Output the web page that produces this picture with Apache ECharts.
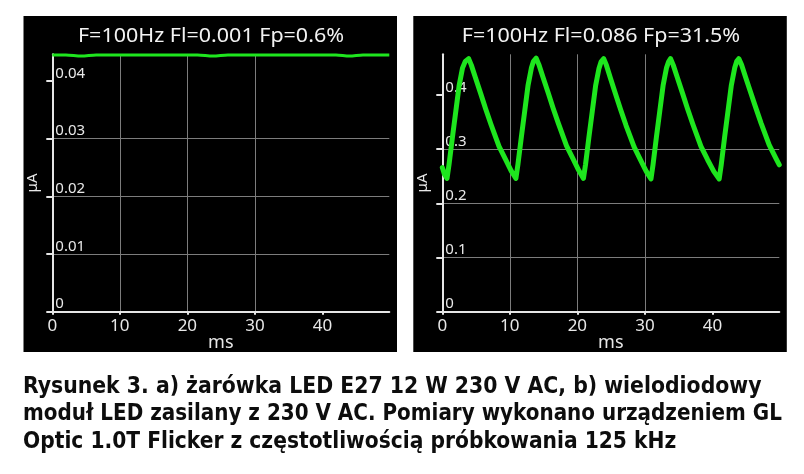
<!DOCTYPE html>
<html>
<head>
<meta charset="utf-8">
<script src="https://cdn.jsdelivr.net/npm/echarts@6/dist/echarts.min.js"></script>
<style>
  html, body { margin: 0; padding: 0; background: #ffffff; }
  #chart { width: 804px; height: 474px; }
</style>
</head>
<body>
<div id="chart"></div>
<script>
// ---- Data ----
var titleA = 'F=100Hz Fl=0.001 Fp=0.6%';
var titleB = 'F=100Hz Fl=0.086 Fp=31.5%';
var xTicks = [0, 10, 20, 30, 40];
var yTicksA = [0, 0.01, 0.02, 0.03, 0.04];
var yTicksB = [0, 0.1, 0.2, 0.3, 0.4];
var xName = 'ms';
var yName = 'μA';

// panel a) — nearly flat light output
var timeA = [0, 2, 4.3, 6.5, 10, 14, 18, 21.5, 23.8, 26, 30, 33, 36, 40, 42, 44, 46, 49.9];
var valueA = [0.0445, 0.0445, 0.0443, 0.0445, 0.0445, 0.0445, 0.0445, 0.0445, 0.0443, 0.0445, 0.0445, 0.0445, 0.0445, 0.0445, 0.0445, 0.0443, 0.0445, 0.0445];

// panel b) — 100 Hz sawtooth-like ripple
var timeB = [
  0, 0.3, 0.7, 1.0, 1.5, 2.0, 2.5, 3.0, 3.4, 3.9,
  4.3, 4.9, 5.7, 6.4, 7.2, 8.4, 9.4, 10.2, 10.9,
  11.2, 11.7, 12.2, 12.7, 13.2, 13.5, 13.9,
  14.3, 14.9, 15.7, 16.4, 17.2, 18.4, 19.4, 20.2, 20.9,
  21.2, 21.7, 22.2, 22.7, 23.2, 23.5, 23.9,
  24.3, 24.9, 25.7, 26.4, 27.2, 28.4, 29.4, 30.2, 30.9,
  31.2, 31.7, 32.2, 32.7, 33.2, 33.5, 33.8,
  34.2, 34.8, 35.6, 36.3, 37.1, 38.3, 39.3, 40.2, 41.0,
  41.3, 41.8, 42.3, 42.8, 43.3, 43.6, 43.9,
  44.3, 44.9, 45.7, 46.4, 47.2, 48.4, 49.4, 49.9
];
var valueB = [
  0.266, 0.254, 0.246, 0.272, 0.322, 0.370, 0.418, 0.450, 0.462, 0.467,
  0.455, 0.432, 0.402, 0.375, 0.346, 0.305, 0.280, 0.260, 0.246,
  0.272, 0.322, 0.370, 0.418, 0.450, 0.462, 0.468,
  0.456, 0.433, 0.403, 0.376, 0.347, 0.306, 0.281, 0.261, 0.246,
  0.271, 0.321, 0.369, 0.417, 0.449, 0.461, 0.467,
  0.455, 0.431, 0.400, 0.373, 0.344, 0.304, 0.279, 0.259, 0.245,
  0.271, 0.322, 0.370, 0.418, 0.450, 0.461, 0.467,
  0.455, 0.432, 0.402, 0.375, 0.346, 0.305, 0.280, 0.259, 0.245,
  0.271, 0.322, 0.370, 0.418, 0.450, 0.462, 0.467,
  0.456, 0.433, 0.403, 0.377, 0.348, 0.308, 0.283, 0.271
];

var captionLines = [
  'Rysunek 3. a) żarówka LED E27 12 W 230 V AC, b) wielodiodowy',
  'moduł LED zasilany z 230 V AC. Pomiary wykonano urządzeniem GL',
  'Optic 1.0T Flicker z częstotliwością próbkowania 125 kHz'
];

function pairs(xs, ys) {
  return xs.map(function (x, i) { return [x, ys[i]]; });
}

// ---- Styles / layout ----
var axisCol = '#e6e6e6';
var gridCol = '#7c7c7c';
var lblCol = '#e8e8e8';
var green = '#1ee61e';
var fontFam = "'Noto Sans', 'Open Sans', sans-serif";
var capLayout = [
  { y: 387, sx: 0.987 },
  { y: 414.5, sx: 0.964 },
  { y: 442, sx: 0.979 }
];

function makeX(idx) {
  return {
    type: 'value', gridIndex: idx, min: 0, max: 49.9,
    name: xName, nameLocation: 'middle', nameGap: 22, nameMoveOverlap: false,
    nameTextStyle: { color: lblCol, fontSize: 18, fontFamily: fontFam },
    axisLine: { show: true, lineStyle: { color: axisCol, width: 2 } },
    axisTick: { show: true, length: 3, customValues: xTicks, lineStyle: { color: axisCol, width: 2 } },
    axisLabel: { customValues: xTicks, color: lblCol, fontSize: 17, fontFamily: fontFam, margin: 6 },
    splitLine: { show: true, showMinLine: false, showMaxLine: false, lineStyle: { color: gridCol, width: 1 } }
  };
}
function makeY(idx, ticks, max) {
  return {
    type: 'value', gridIndex: idx, min: 0, max: max,
    name: yName, nameLocation: 'middle', nameGap: 12, nameRotate: 90, nameMoveOverlap: false,
    nameTextStyle: { color: lblCol, fontSize: 15, fontFamily: fontFam },
    axisLine: { show: true, lineStyle: { color: axisCol, width: 2 } },
    axisTick: { show: true, length: 6, customValues: ticks, lineStyle: { color: axisCol, width: 2 } },
    axisLabel: {
      customValues: ticks, inside: true, margin: 3, color: lblCol, fontSize: 15,
      fontFamily: fontFam, verticalAlign: 'bottom', align: 'left'
    },
    splitLine: { show: true, showMinLine: false, showMaxLine: false, lineStyle: { color: gridCol, width: 1 } }
  };
}

var chart = echarts.init(document.getElementById('chart'), null, { renderer: 'canvas' });

var graphics = [
  { type: 'rect', z: -100, shape: { x: 23.5, y: 16, width: 373.5, height: 336 }, style: { fill: '#000' } },
  { type: 'rect', z: -100, shape: { x: 413.3, y: 16, width: 373.5, height: 336 }, style: { fill: '#000' } },
  { type: 'text', z: 100, x: 211, y: 37, scaleX: 1.13, style: { text: titleA, fill: '#f2f2f2', font: '19px ' + fontFam, textAlign: 'center', textVerticalAlign: 'middle' } },
  { type: 'text', z: 100, x: 601, y: 37, scaleX: 1.13, style: { text: titleB, fill: '#f2f2f2', font: '19px ' + fontFam, textAlign: 'center', textVerticalAlign: 'middle' } }
];
captionLines.forEach(function (t, i) {
  graphics.push({
    type: 'text', z: 100, x: 23, y: capLayout[i].y, scaleX: capLayout[i].sx,
    style: { text: t, fill: '#0d0d0d', font: "bold 23px 'DejaVu Sans Condensed', sans-serif", textAlign: 'left', textVerticalAlign: 'middle' }
  });
});

chart.setOption({
  backgroundColor: '#ffffff',
  animation: false,
  grid: [
    { left: 52.3, top: 54.3, width: 337, height: 257.4 },
    { left: 442.3, top: 54.3, width: 337, height: 257.4 }
  ],
  xAxis: [makeX(0), makeX(1)],
  yAxis: [makeY(0, yTicksA, 0.0446), makeY(1, yTicksB, 0.475)],
  series: [
    {
      type: 'line', xAxisIndex: 0, yAxisIndex: 0, data: pairs(timeA, valueA),
      showSymbol: false, smooth: 0.3, clip: false,
      lineStyle: { color: green, width: 3 }, z: 5
    },
    {
      type: 'line', xAxisIndex: 1, yAxisIndex: 1, data: pairs(timeB, valueB),
      showSymbol: false, smooth: false, clip: false,
      lineStyle: { color: green, width: 5, join: 'round', cap: 'round' }, z: 5
    }
  ],
  graphic: graphics
});
</script>
</body>
</html>
